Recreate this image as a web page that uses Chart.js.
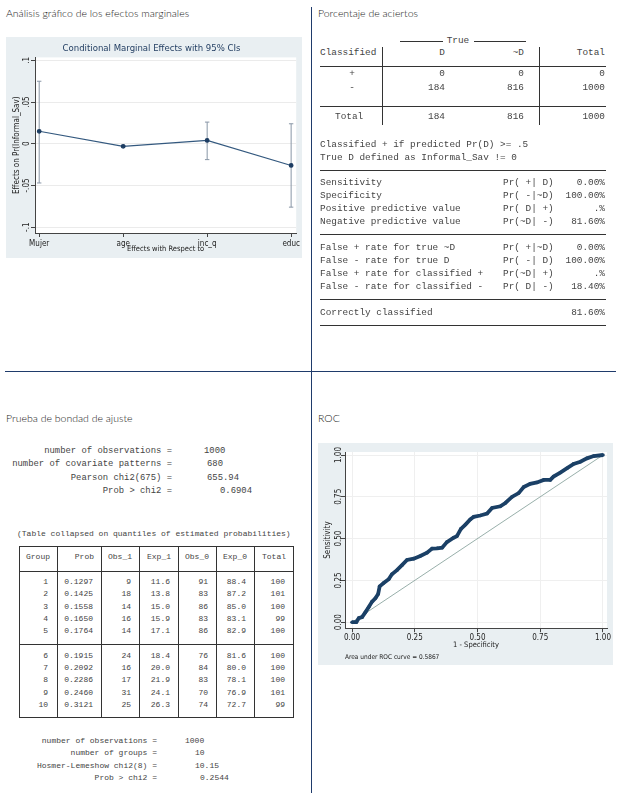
<!DOCTYPE html>
<html>
<head>
<meta charset="utf-8">
<script src="https://cdn.jsdelivr.net/npm/chart.js@4.4.0/dist/chart.umd.min.js"></script>
<style>
  html, body { margin: 0; padding: 0; background: #fff; }
  #page { position: relative; width: 624px; height: 793px; overflow: hidden; background: #fff; }
  canvas { position: absolute; background: #e9eff2; }
  .t { position: absolute; white-space: pre; line-height: 12px; height: 12px; color: #444; }
  .head { font: 300 10.5px Lato, "Open Sans", sans-serif; color: #1a1a1a; }
  .m9 { font: 9.4px "Liberation Mono", "DejaVu Sans Mono", monospace; }
  .m89 { font: 8.9px "Liberation Mono", "DejaVu Sans Mono", monospace; }
  .m8 { font: 8px "Liberation Mono", "DejaVu Sans Mono", monospace; }
  .ln { position: absolute; background: #333; }
  .div { position: absolute; background: #1f3b6b; }
</style>
</head>
<body>
<div id="page">
  <canvas id="mfx" width="296" height="221" style="left:6px;top:37px"></canvas>
  <canvas id="roc" width="295" height="222" style="left:318px;top:443px"></canvas>
</div>
<script>
// marginal effects (margins, dydx)
const mfxCategories = ['Mujer', 'age', 'inc_q', 'educ'];
const mfxEffect = [0.015, -0.003, 0.004, -0.026];
const mfxLower = [-0.047, -0.004, -0.019, -0.076];
const mfxUpper = [0.075, -0.002, 0.026, 0.024];
const mfxTicks = [-0.1, -0.05, 0, 0.05, 0.1];
const mfxTickLabels = ['-.1', '-.05', '0', '.05', '.1'];

// ROC curve
const rocFpr = [0, 0.017, 0.027, 0.04, 0.053, 0.066, 0.08, 0.093, 0.104, 0.11, 0.126, 0.146, 0.159, 0.179, 0.199,
  0.219, 0.246, 0.272, 0.299, 0.319, 0.339, 0.359, 0.378, 0.405, 0.418, 0.434, 0.452, 0.471, 0.485, 0.511,
  0.538, 0.558, 0.591, 0.611, 0.637, 0.664, 0.684, 0.71, 0.737, 0.764, 0.79, 0.803, 0.83, 0.857, 0.883,
  0.91, 0.936, 0.963, 1];
const rocTpr = [0, 0, 0.024, 0.03, 0.059, 0.089, 0.123, 0.143, 0.168, 0.214, 0.234, 0.257, 0.287, 0.311, 0.341,
  0.372, 0.38, 0.396, 0.416, 0.44, 0.442, 0.446, 0.479, 0.505, 0.515, 0.558, 0.584, 0.614, 0.63, 0.638,
  0.65, 0.683, 0.693, 0.713, 0.749, 0.772, 0.808, 0.828, 0.836, 0.851, 0.851, 0.871, 0.895, 0.921, 0.947,
  0.96, 0.98, 0.994, 1];
const rocRefLine = [0, 1];
const rocTicks = [0, 0.25, 0.5, 0.75, 1];
const rocArea = '0.5867';

// estat classification
const clsRowLabels = ['+', '-'];
const clsD = [0, 184];
const clsNotD = [0, 816];
const clsTotal = [0, 1000];
const clsColTotals = [184, 816, 1000];
const clsNotes = ['Classified + if predicted Pr(D) >= .5', 'True D defined as Informal_Sav != 0'];
const clsMeasures = ['Sensitivity', 'Specificity', 'Positive predictive value', 'Negative predictive value'];
const clsMeasureCond = ['Pr( +| D)', 'Pr( -|~D)', 'Pr( D| +)', 'Pr(~D| -)'];
const clsMeasureVal = ['0.00%', '100.00%', '.%', '81.60%'];
const clsRates = ['False + rate for true ~D', 'False - rate for true D', 'False + rate for classified +', 'False - rate for classified -'];
const clsRateCond = ['Pr( +|~D)', 'Pr( -| D)', 'Pr(~D| +)', 'Pr( D| -)'];
const clsRateVal = ['0.00%', '100.00%', '.%', '18.40%'];
const clsCorrect = '81.60%';

// estat gof
const gofLabels = ['number of observations =', 'number of covariate patterns =', 'Pearson chi2(675) =', 'Prob > chi2 ='];
const gofValues = ['1000', '680', '655.94', '0.6904'];
const hlHeader = ['Group', 'Prob', 'Obs_1', 'Exp_1', 'Obs_0', 'Exp_0', 'Total'];
const hlGroup = [1, 2, 3, 4, 5, 6, 7, 8, 9, 10];
const hlProb = ['0.1297', '0.1425', '0.1558', '0.1650', '0.1764', '0.1915', '0.2092', '0.2286', '0.2460', '0.3121'];
const hlObs1 = [9, 18, 14, 16, 14, 24, 16, 17, 31, 25];
const hlExp1 = ['11.6', '13.8', '15.0', '15.9', '17.1', '18.4', '20.0', '21.9', '24.1', '26.3'];
const hlObs0 = [91, 83, 86, 83, 86, 76, 84, 83, 70, 74];
const hlExp0 = ['88.4', '87.2', '85.0', '83.1', '82.9', '81.6', '80.0', '78.1', '76.9', '72.7'];
const hlTotal = [100, 101, 100, 99, 100, 100, 100, 100, 101, 99];
const hlLabels = ['number of observations =', 'number of groups =', 'Hosmer-Lemeshow chi2(8) =', 'Prob > chi2 ='];
const hlValues = ['1000', '10', '10.15', '0.2544'];

const page = document.getElementById('page');

function put(text, x, y, cls, align) {
    const el = document.createElement('div');
    el.className = 't ' + cls;
    el.textContent = text;
    el.style.top = (y - 6) + 'px';
    if (align === 'right') {
        el.style.right = (624 - x) + 'px';
    } else if (align === 'center') {
        el.style.left = (x - 60) + 'px';
        el.style.width = '120px';
        el.style.textAlign = 'center';
    } else {
        el.style.left = x + 'px';
    }
    page.appendChild(el);
}

function hline(x1, x2, y, cls = 'ln') {
    const el = document.createElement('div');
    el.className = cls;
    Object.assign(el.style, { left: x1 + 'px', top: y + 'px', width: (x2 - x1) + 'px', height: '1px' });
    page.appendChild(el);
}

function vline(x, y1, y2, cls = 'ln') {
    const el = document.createElement('div');
    el.className = cls;
    Object.assign(el.style, { left: x + 'px', top: y1 + 'px', width: '1px', height: (y2 - y1) + 'px' });
    page.appendChild(el);
}

// page frame
vline(311, 7, 793, 'div');
hline(5, 616, 371, 'div');
put('Análisis gráfico de los efectos marginales', 6, 13, 'head');
put('Porcentaje de aciertos', 318, 13, 'head');
put('Prueba de bondad de ajuste', 6, 418, 'head');
put('ROC', 318, 418, 'head');

// classification table (top right)
put('True', 458, 41, 'm9', 'center');
hline(400, 443, 41);
hline(474, 526, 41);
put('Classified', 320, 53, 'm9');
put('D', 445, 53, 'm9', 'right');
put('~D', 524, 53, 'm9', 'right');
put('Total', 605, 53, 'm9', 'right');
vline(382, 47, 125);
vline(539, 47, 125);
hline(320, 606, 66);
clsRowLabels.forEach((r, i) => {
    const y = 74 + i * 14;
    put(r, 352, y, 'm9', 'center');
    put(String(clsD[i]), 445, y, 'm9', 'right');
    put(String(clsNotD[i]), 524, y, 'm9', 'right');
    put(String(clsTotal[i]), 605, y, 'm9', 'right');
});
hline(320, 606, 106);
put('Total', 335, 117, 'm9');
put(String(clsColTotals[0]), 445, 117, 'm9', 'right');
put(String(clsColTotals[1]), 524, 117, 'm9', 'right');
put(String(clsColTotals[2]), 605, 117, 'm9', 'right');
clsNotes.forEach((s, i) => put(s, 320, 145 + i * 12.5, 'm9'));
hline(320, 606, 170);
clsMeasures.forEach((s, i) => {
    const y = 183.3 + i * 12.8;
    put(s, 320, y, 'm9');
    put(clsMeasureCond[i], 503, y, 'm9');
    put(clsMeasureVal[i], 605, y, 'm9', 'right');
});
hline(320, 606, 234);
clsRates.forEach((s, i) => {
    const y = 248.3 + i * 12.8;
    put(s, 320, y, 'm9');
    put(clsRateCond[i], 503, y, 'm9');
    put(clsRateVal[i], 605, y, 'm9', 'right');
});
hline(320, 606, 299);
put('Correctly classified', 320, 313, 'm9');
put(clsCorrect, 605, 313, 'm9', 'right');
hline(320, 606, 325);

// goodness of fit (bottom left)
const gofValueX = [204, 207, 207, 220];
gofLabels.forEach((s, i) => {
    const y = 452 + i * 13.4;
    put(s, 172, y, 'm89', 'right');
    put(gofValues[i], gofValueX[i], y, 'm89');
});
put('(Table collapsed on quantiles of estimated probabilities)', 17, 535, 'm8');

const colEdges = [19, 57, 101, 139, 178, 216, 254, 293];
const tTop = 546, tHead = 571, tMid = 644, tBottom = 717;
hline(colEdges[0], colEdges[7] + 1, tTop);
hline(colEdges[0], colEdges[7] + 1, tHead);
hline(colEdges[0], colEdges[7] + 1, tMid);
hline(colEdges[0], colEdges[7] + 1, tBottom);
colEdges.forEach(x => vline(x, tTop, tBottom + 1));
hlHeader.forEach((h, c) => {
    if (c === 0) put(h, (colEdges[0] + colEdges[1]) / 2, 558, 'm8', 'center');
    else put(h, colEdges[c + 1] - 7, 558, 'm8', 'right');
});
hlGroup.forEach((g, r) => {
    const y = 583 + r * 12.3 + (r >= 5 ? 12.3 : 0);
    const cells = [hlProb[r], hlObs1[r], hlExp1[r], hlObs0[r], hlExp0[r], hlTotal[r]];
    put(String(g), 48, y, 'm8', 'right');
    cells.forEach((v, c) => put(String(v), colEdges[c + 2] - 8, y, 'm8', 'right'));
});
const hlValueX = [185, 195, 195, 200];
hlLabels.forEach((s, i) => {
    const y = 742 + i * 12.4;
    put(s, 157, y, 'm8', 'right');
    put(hlValues[i], hlValueX[i], y, 'm8');
});

// charts
Chart.defaults.font.family = "'Liberation Sans Narrow', 'DejaVu Sans Condensed', 'Liberation Sans', sans-serif";
Chart.defaults.color = '#222';

const plotBg = {
    id: 'plotBg',
    beforeDraw(chart) {
        const { ctx, chartArea: a } = chart;
        ctx.save();
        ctx.fillStyle = '#ffffff';
        ctx.fillRect(a.left, a.top, a.width, a.height);
        ctx.restore();
    }
};

const axisLine = { color: '#444', width: 1 };

new Chart(document.getElementById('mfx'), {
    type: 'line',
    data: {
        datasets: [
            {
                data: mfxCategories.map((c, i) => ({ x: i, y: mfxEffect[i] })),
                borderColor: '#34597f',
                borderWidth: 1.2,
                pointRadius: 1.8,
                pointBackgroundColor: '#1d3d62',
                pointBorderColor: '#1d3d62',
                order: 0
            },
            ...mfxCategories.map((c, i) => ({
                data: [{ x: i, y: mfxLower[i] }, { x: i, y: mfxUpper[i] }],
                borderColor: '#8896a6',
                borderWidth: 1,
                pointStyle: 'line',
                pointRadius: 2.2,
                pointBorderColor: '#8896a6',
                pointBorderWidth: 1,
                order: 1
            }))
        ]
    },
    options: {
        responsive: false,
        animation: false,
        devicePixelRatio: 1,
        layout: { padding: { left: 0, right: 5, top: 0, bottom: 0 } },
        plugins: {
            legend: { display: false },
            tooltip: { enabled: false },
            title: {
                display: true,
                text: 'Conditional Marginal Effects with 95% CIs',
                color: '#1e3a5f',
                font: { size: 9.5, weight: 'normal' },
                padding: { top: 6, bottom: 3 }
            }
        },
        scales: {
            x: {
                type: 'linear',
                min: -0.05,
                max: 3.06,
                afterBuildTicks: s => { s.ticks = mfxCategories.map((c, i) => ({ value: i })); },
                afterFit: s => { s.height = 25; },
                ticks: { callback: v => mfxCategories[v], font: { size: 8 }, padding: 2, autoSkip: false, maxRotation: 0 },
                grid: { drawOnChartArea: false, tickLength: 4, tickColor: '#444' },
                border: axisLine,
                title: { display: true, text: 'Effects with Respect to', font: { size: 7.5 }, padding: { top: 0, bottom: 4 } }
            },
            y: {
                min: -0.107,
                max: 0.1036,
                afterBuildTicks: s => { s.ticks = mfxTicks.map(v => ({ value: v })); },
                afterFit: s => { s.width = 29; },
                ticks: {
                    callback: (v, i) => mfxTickLabels[i],
                    minRotation: 90, maxRotation: 90, crossAlign: 'center', padding: -3,
                    font: { size: 8 }
                },
                grid: { color: '#ebebeb', tickLength: 4, tickColor: '#444' },
                border: axisLine,
                title: { display: true, text: 'Effects on Pr(Informal_Sav)', font: { size: 8 }, padding: { top: 6, bottom: 0 } }
            }
        }
    },
    plugins: [plotBg]
});

new Chart(document.getElementById('roc'), {
    type: 'line',
    data: {
        datasets: [
            {
                data: rocFpr.map((x, i) => ({ x: x, y: rocTpr[i] })),
                borderColor: '#1b4066',
                borderWidth: 3.8,
                pointRadius: 1.8,
                pointBackgroundColor: '#1b4066',
                pointBorderWidth: 0,
                order: 0
            },
            {
                data: rocRefLine.map(v => ({ x: v, y: v })),
                borderColor: '#7d9a94',
                borderWidth: 0.8,
                pointRadius: 0,
                order: 1
            }
        ]
    },
    options: {
        responsive: false,
        animation: false,
        devicePixelRatio: 1,
        layout: { padding: { left: 0, right: 6, top: 9, bottom: 0 } },
        plugins: {
            legend: { display: false },
            tooltip: { enabled: false },
            subtitle: {
                display: true,
                position: 'bottom',
                align: 'start',
                fullSize: false,
                text: 'Area under ROC curve = ' + rocArea,
                color: '#222',
                font: { size: 6.5 },
                padding: { top: 2, bottom: 4 }
            }
        },
        scales: {
            x: {
                type: 'linear',
                min: -0.028,
                max: 1.016,
                afterBuildTicks: s => { s.ticks = rocTicks.map(v => ({ value: v })); },
                afterFit: s => { s.height = 23; },
                ticks: { callback: v => v.toFixed(2), font: { size: 8 }, padding: 1, maxRotation: 0 },
                grid: { color: '#efefef', tickLength: 4, tickColor: '#444' },
                border: axisLine,
                title: { display: true, text: '1 - Specificity', font: { size: 7.5 }, padding: { top: 0, bottom: 2 } }
            },
            y: {
                min: -0.036,
                max: 1.018,
                afterBuildTicks: s => { s.ticks = rocTicks.map(v => ({ value: v })); },
                afterFit: s => { s.width = 27; },
                ticks: {
                    callback: v => v.toFixed(2),
                    minRotation: 90, maxRotation: 90, crossAlign: 'center', padding: -6,
                    font: { size: 8 }
                },
                grid: { color: '#efefef', tickLength: 4, tickColor: '#444' },
                border: axisLine,
                title: { display: true, text: 'Sensitivity', font: { size: 8 }, padding: { top: 5, bottom: 0 } }
            }
        }
    },
    plugins: [plotBg]
});
</script>
</body>
</html>
